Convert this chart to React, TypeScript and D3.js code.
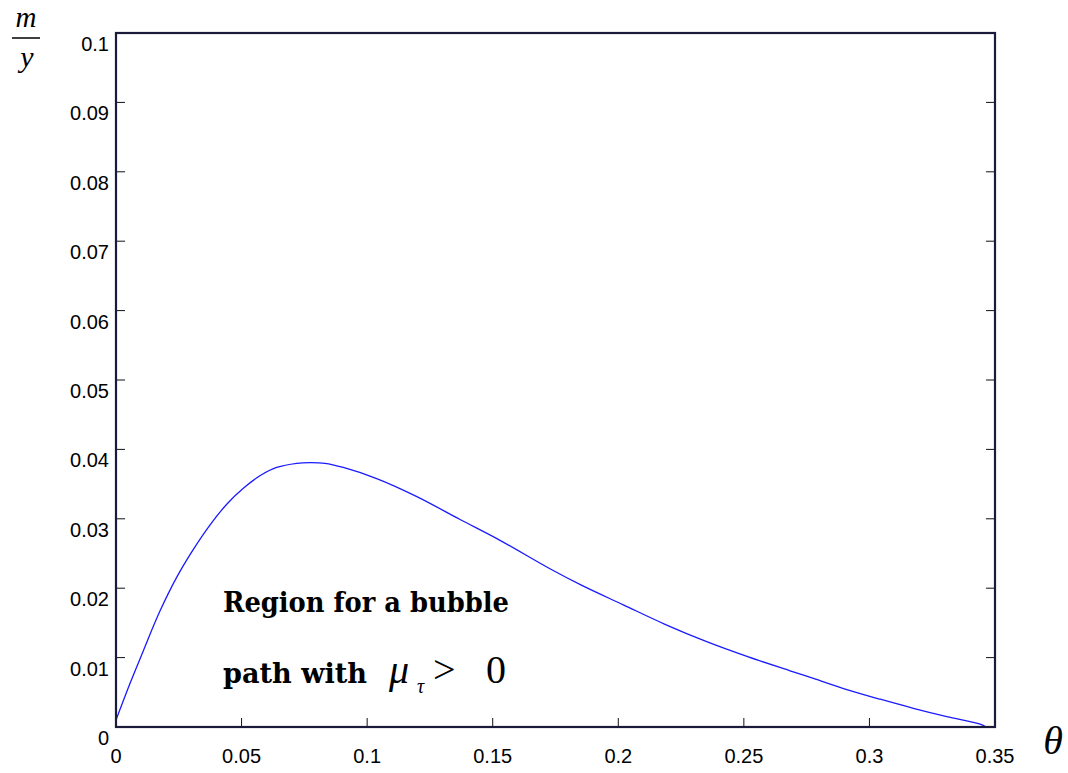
import React from "react";
import * as d3 from "d3";

const thetaValues = [0, 0.0056, 0.0109, 0.0175, 0.0242, 0.0308, 0.0374, 0.0441, 0.0507, 0.0573, 0.064, 0.072, 0.0773, 0.0832, 0.0905, 0.1038, 0.1198, 0.137, 0.1529, 0.1728, 0.1855, 0.202, 0.2186, 0.2352, 0.2518, 0.2684, 0.2777, 0.291, 0.3043, 0.3175, 0.3308, 0.3441, 0.3465];
const ratioValues = [0.001, 0.0063, 0.011, 0.0167, 0.0216, 0.0256, 0.0291, 0.0321, 0.0344, 0.0362, 0.0374, 0.038, 0.0381, 0.038, 0.0374, 0.0358, 0.0332, 0.0299, 0.0269, 0.0228, 0.0204, 0.0176, 0.0148, 0.0123, 0.0101, 0.0081, 0.007, 0.0054, 0.004, 0.0027, 0.0015, 0.0004, 0.0];
const yTicks = [0, 0.01, 0.02, 0.03, 0.04, 0.05, 0.06, 0.07, 0.08, 0.09, 0.1];
const yTickLabels = ["0", "0.01", "0.02", "0.03", "0.04", "0.05", "0.06", "0.07", "0.08", "0.09", "0.1"];
const xTicks = [0, 0.05, 0.1, 0.15, 0.2, 0.25, 0.3, 0.35];
const xTickLabels = ["0", "0.05", "0.1", "0.15", "0.2", "0.25", "0.3", "0.35"];

const L = 116, R = 995, T = 33, B = 727;

export default function App() {
  const x = d3.scaleLinear().domain([0, 0.35]).range([L, R]);
  const y = d3.scaleLinear().domain([0, 0.1]).range([B, T]);
  const pts: [number, number][] = thetaValues.map((t, i) => [t, ratioValues[i]]);
  const line = d3.line<[number, number]>().x(d => x(d[0])).y(d => y(d[1])).curve(d3.curveCatmullRom.alpha(0.5));
  const tickFont = "'Liberation Sans', Arial, sans-serif";
  const serif = "'Liberation Serif', 'Times New Roman', serif";
  const tickLen = 9;
  return (
    <svg width={1068} height={773} style={{ position: "absolute", left: 0, top: 0, background: "#fff" }}>
      <rect x={0} y={0} width={1068} height={773} fill="#fff" />
      <path d={line(pts) || ""} fill="none" stroke="#1a1aff" strokeWidth={1.3} />
      {yTicks.slice(1, -1).map(v => (
        <g key={"yt" + v}>
          <line x1={L} x2={L + tickLen} y1={y(v)} y2={y(v)} stroke="#111" strokeWidth={1} />
          <line x1={R - tickLen} x2={R} y1={y(v)} y2={y(v)} stroke="#111" strokeWidth={1} />
        </g>
      ))}
      {xTicks.slice(1, -1).map(v => (
        <line key={"xt" + v} x1={x(v)} x2={x(v)} y1={B} y2={B - tickLen} stroke="#111" strokeWidth={1} />
      ))}
      <rect x={L} y={T} width={R - L} height={B - T} fill="none" stroke="#1a1a3a" strokeWidth={2.2} />
      {yTicks.map((v, i) => (
        <text key={"yl" + v} x={109} y={y(v) + 18} textAnchor="end" fontFamily={tickFont} fontSize={20} fill="#000">
          {yTickLabels[i]}
        </text>
      ))}
      {xTicks.map((v, i) => (
        <text key={"xl" + v} x={x(v)} y={763} textAnchor="middle" fontFamily={tickFont} fontSize={20} fill="#000">
          {xTickLabels[i]}
        </text>
      ))}
      <text x={1053} y={754} textAnchor="middle" fontFamily={serif} fontStyle="italic" fontSize={40} fill="#000">θ</text>
      <text x={26} y={27} textAnchor="middle" fontFamily={serif} fontStyle="italic" fontSize={29} fill="#000">m</text>
      <line x1={12} x2={40} y1={38} y2={38} stroke="#000" strokeWidth={1.5} />
      <text x={27} y={67} textAnchor="middle" fontFamily={serif} fontStyle="italic" fontSize={30} fill="#000">y</text>
      <text x={223} y={612} fontFamily="'DejaVu Serif', serif" fontWeight="bold" fontSize={27} textLength={286} lengthAdjust="spacingAndGlyphs" fill="#000">Region for a bubble</text>
      <text x={223} y={683} fontFamily="'DejaVu Serif', serif" fontWeight="bold" fontSize={27} textLength={144} lengthAdjust="spacingAndGlyphs" fill="#000">path with</text>
      <text x={389} y={683} fontFamily={serif} fontStyle="italic" fontSize={40} fill="#000">μ</text>
      <text x={417} y={693} fontFamily={serif} fontStyle="italic" fontSize={20} fill="#000">τ</text>
      <text x={433} y={683} fontFamily={serif} fontSize={40} fill="#000">&gt;</text>
      <text x={486} y={683} fontFamily={serif} fontSize={40} fill="#000">0</text>
    </svg>
  );
}
